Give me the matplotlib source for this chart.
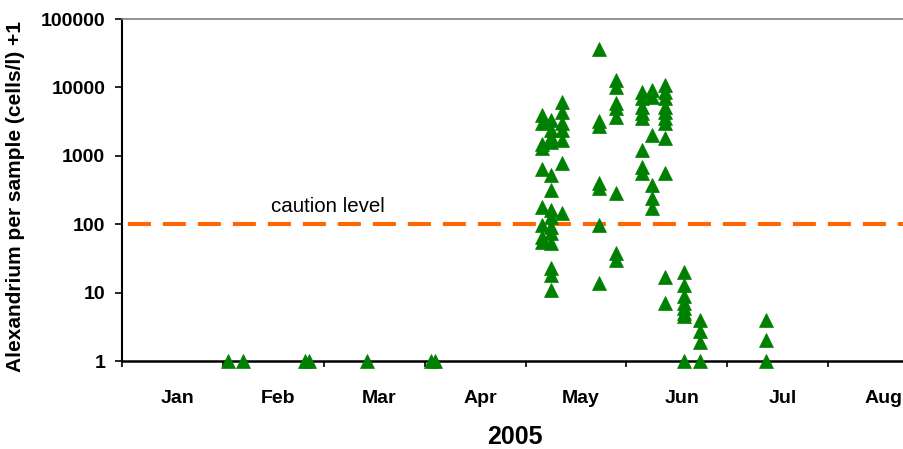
import matplotlib
matplotlib.use("Agg")
import matplotlib.pyplot as plt
from matplotlib.ticker import FixedLocator, FixedFormatter, NullFormatter

plt.rcParams['font.family'] = ['Liberation Sans', 'DejaVu Sans']
plt.rcParams['lines.scale_dashes'] = False

# sampling day (days from 1 Jan 2005) and Alexandrium count per sample (cells/l) + 1
day = ([31.5, 36, 54.5, 55.5, 73, 92, 93]
       + [125] * 9 + [127.5] * 14 + [131] * 7
       + [142] * 7 + [147] * 8
       + [154.5] * 8 + [157.5] * 6 + [161.5] * 11
       + [167] * 8 + [172] * 4 + [191.5] * 3)
cells = ([1, 1, 1, 1, 1, 1, 1]
         + [3900, 3000, 1500, 1300, 650, 180, 97, 66, 55]
         + [3300, 2400, 1900, 1600, 525, 315, 160, 128, 90, 75, 53, 23, 18, 11]
         + [6200, 4400, 3000, 2400, 1700, 785, 145]
         + [36500, 3200, 2700, 400, 340, 97, 13.8]
         + [12800, 10000, 5850, 5000, 3700, 285, 38, 30]
         + [8700, 6900, 5200, 4200, 3600, 1200, 690, 560]
         + [9100, 7300, 2000, 375, 240, 170]
         + [10800, 8700, 6900, 5200, 4400, 3600, 3000, 1800, 560, 17, 7]
         + [20, 13, 9, 7, 6, 5, 4.5, 1]
         + [4, 2.7, 1.9, 1]
         + [4, 2, 1])

caution = 100
months = ['Jan', 'Feb', 'Mar', 'Apr', 'May', 'Jun', 'Jul', 'Aug']
month_len = 30

fig = plt.figure(figsize=(9.04, 4.49), dpi=100)
ax = fig.add_axes([122 / 904, 88 / 449, 807 / 904, 342 / 449])

ax.plot(day, cells, '^', color='#008000', ms=10, mec='#008000', mew=0.5,
        clip_on=False, zorder=5)

# caution threshold
ax.axhline(caution, color='#FF6600', lw=2.9,
           linestyle=(21, (16.6, 8.6)), zorder=3)
ax.text(44.3, 150, 'caution level', fontsize=14.8, va='baseline', ha='left')

ax.set_yscale('log')
ax.set_ylim(1, 100000)
ax.set_xlim(0, month_len * 8)

yt = [1, 10, 100, 1000, 10000, 100000]
ax.yaxis.set_major_locator(FixedLocator(yt))
ax.yaxis.set_major_formatter(FixedFormatter([str(v) for v in yt]))
ax.yaxis.set_minor_locator(FixedLocator([]))
ax.tick_params(axis='y', which='major', length=5, width=1.2, pad=7,
               labelsize=14)

ax.xaxis.set_major_locator(FixedLocator([month_len * i for i in range(9)]))
ax.xaxis.set_major_formatter(NullFormatter())
ax.xaxis.set_minor_locator(FixedLocator([month_len * i + 16.5 for i in range(8)]))
ax.xaxis.set_minor_formatter(FixedFormatter(months))
ax.tick_params(axis='x', which='major', length=4.3, width=1.2)
ax.tick_params(axis='x', which='minor', length=0, pad=21, labelsize=14)

for lab in ax.get_xticklabels(minor=True) + ax.get_yticklabels():
    lab.set_fontweight('bold')

ax.spines['top'].set_color('#808080')
ax.spines['top'].set_linewidth(1.2)
ax.spines['right'].set_visible(False)
ax.spines['left'].set_linewidth(1.5)
ax.spines['bottom'].set_linewidth(1.8)

fig.text(16 / 904, 1 - 196 / 449, 'Alexandrium per sample (cells/l) +1',
         rotation=90, ha='center', va='center', fontsize=15, fontweight='bold')
fig.text(515 / 904, 1 - 437 / 449, '2005', ha='center', va='center',
         fontsize=18, fontweight='bold')

fig.savefig('out.png', dpi=100)
